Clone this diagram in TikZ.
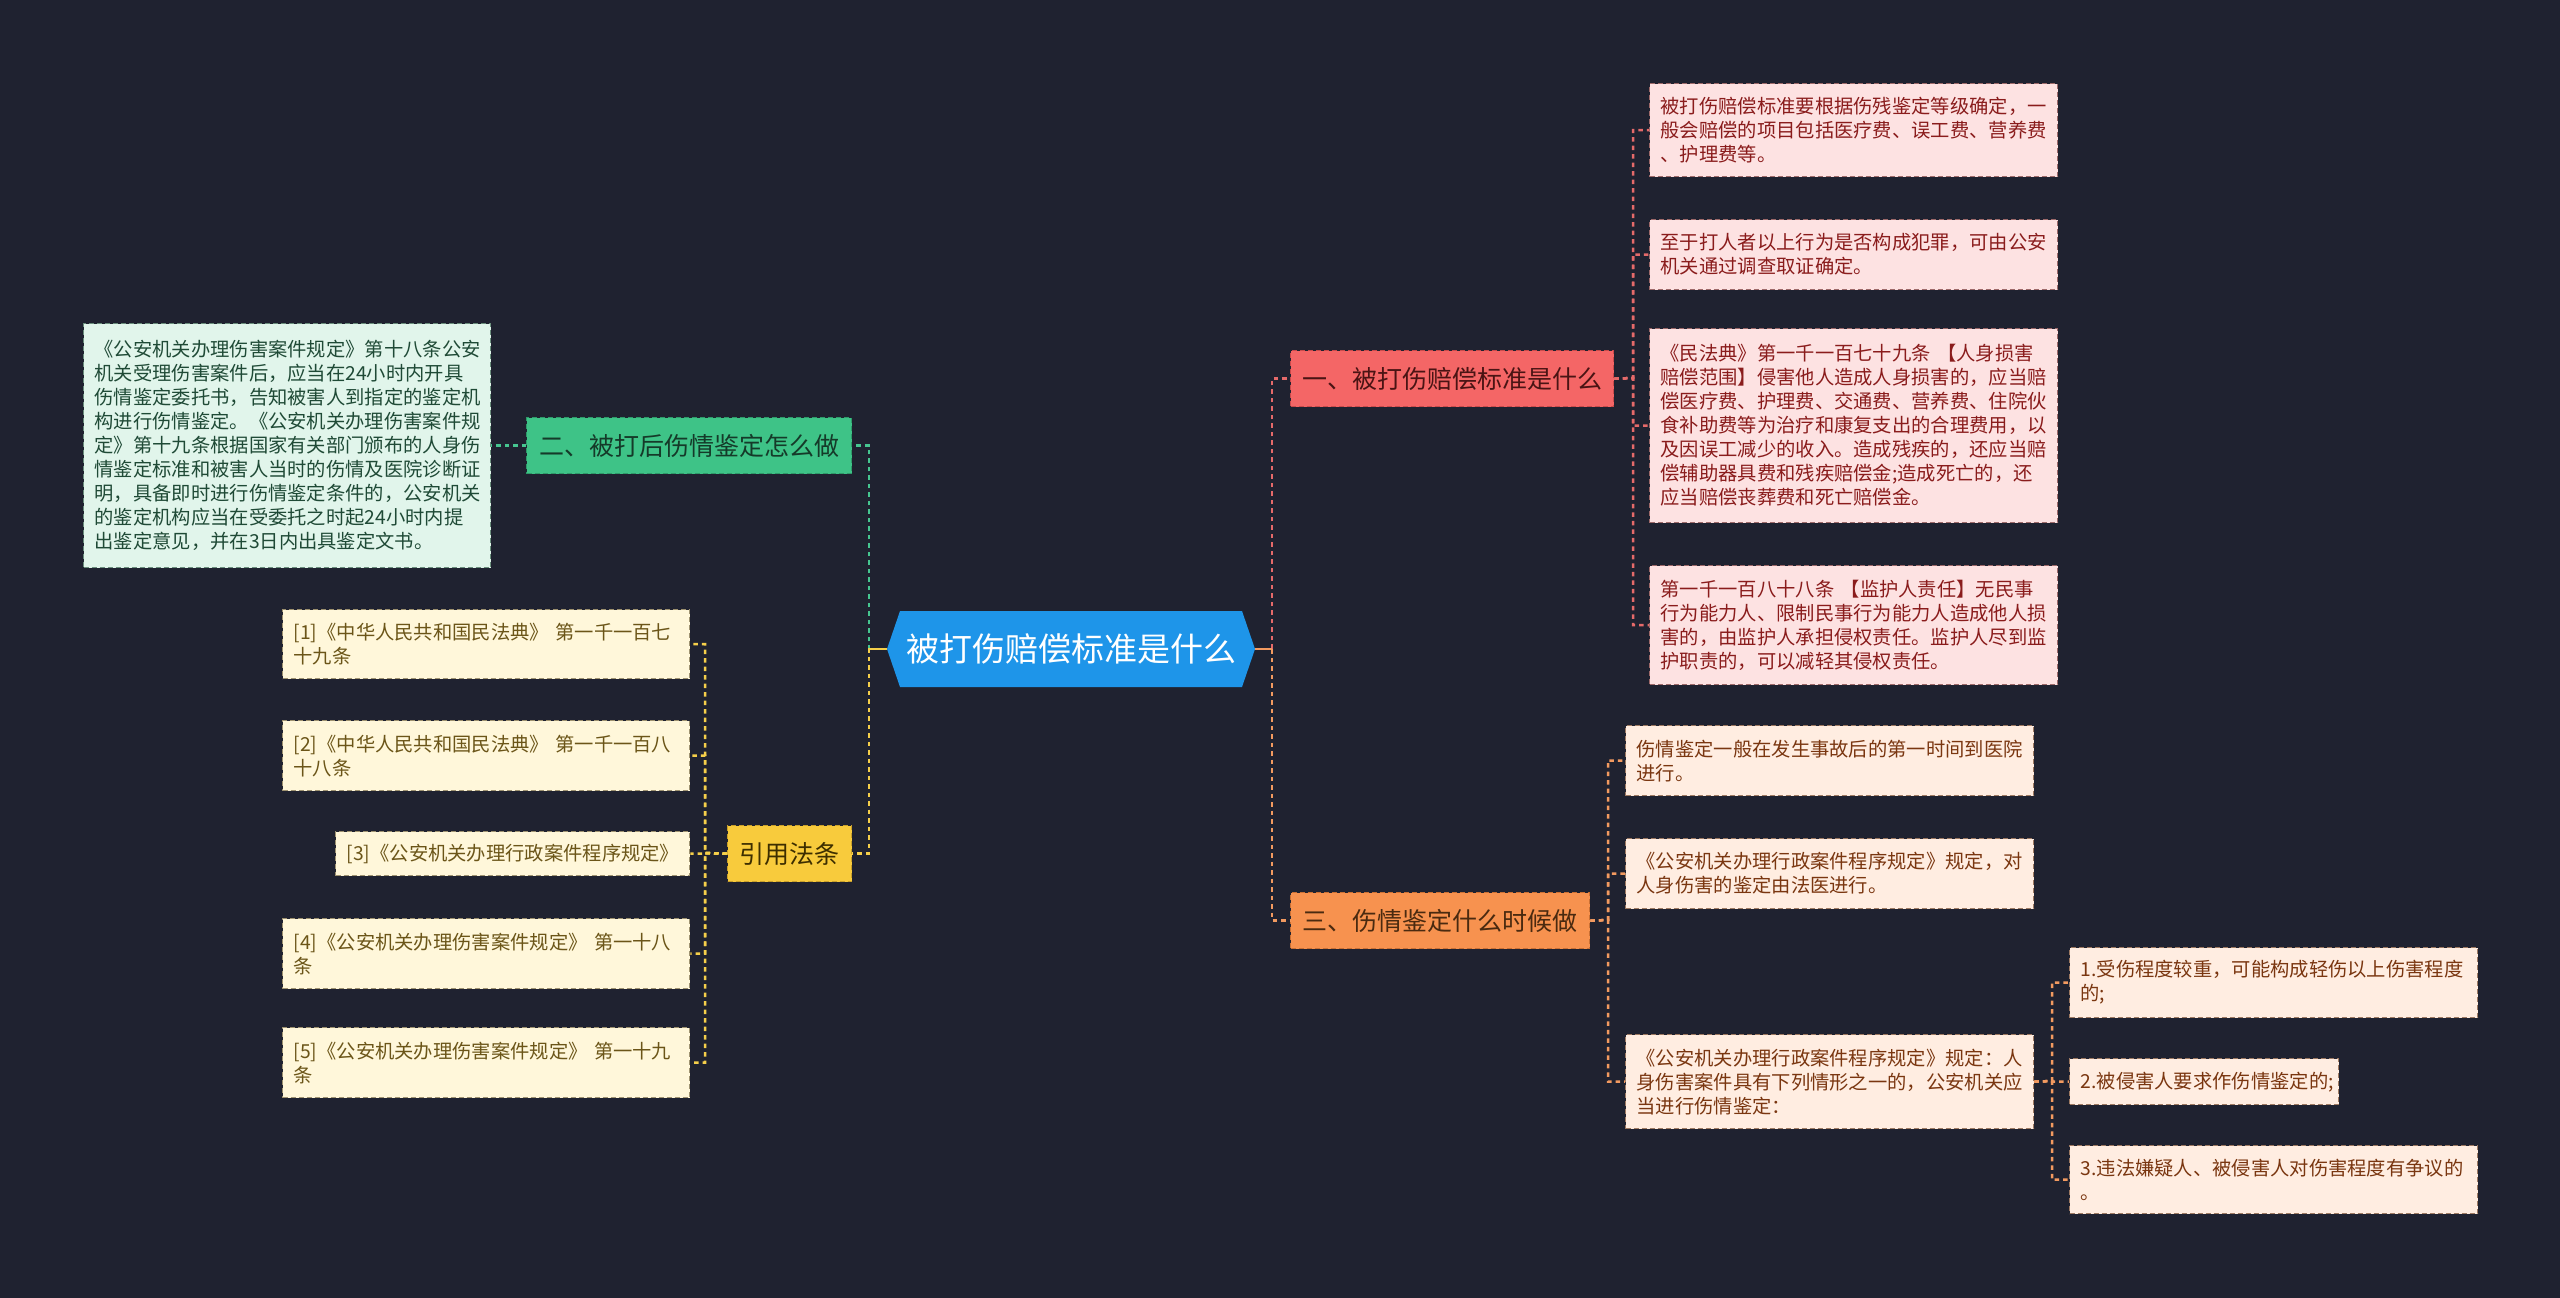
\documentclass[tikz,border=0pt]{standalone}
\usepackage{fontspec}
\setmainfont{Noto Sans CJK SC}
\usetikzlibrary{calc}
\definecolor{bg}{HTML}{1F2230}
\definecolor{cblue}{HTML}{1E95E9}
\definecolor{redF}{HTML}{F46666}
\definecolor{redD}{HTML}{C94A4A}
\definecolor{redT}{HTML}{4A1414}
\definecolor{oraF}{HTML}{F7924F}
\definecolor{oraD}{HTML}{C96F33}
\definecolor{oraT}{HTML}{4A2A10}
\definecolor{grnF}{HTML}{3EC387}
\definecolor{grnD}{HTML}{2E9A69}
\definecolor{grnT}{HTML}{153A29}
\definecolor{yelF}{HTML}{F8CB3C}
\definecolor{yelD}{HTML}{C9A02A}
\definecolor{yelT}{HTML}{3D2E00}
\definecolor{rLF}{HTML}{FDE2E2}
\definecolor{rLD}{HTML}{9E6A6A}
\definecolor{rLT}{HTML}{8A1C1C}
\definecolor{oLF}{HTML}{FFEDE1}
\definecolor{oLD}{HTML}{9E7A62}
\definecolor{oLT}{HTML}{7A3610}
\definecolor{gLF}{HTML}{E1F5EB}
\definecolor{gLD}{HTML}{6A8E7C}
\definecolor{gLT}{HTML}{1F4A36}
\definecolor{yLF}{HTML}{FFF7DA}
\definecolor{yLD}{HTML}{9E9270}
\definecolor{yLT}{HTML}{6B5518}
\definecolor{rC}{HTML}{E56A6A}
\definecolor{oC}{HTML}{F29A60}
\definecolor{gC}{HTML}{46C690}
\definecolor{yC}{HTML}{F5CF4A}
\tikzset{
  leaf/.style={anchor=north west, inner xsep=11pt, inner ysep=0pt, align=left,
    font=\fontsize{19.3}{24}\selectfont, line width=1.3pt, dash pattern=on 5pt off 3pt},
  rleaf/.style={leaf, fill=rLF, draw=rLD, text=rLT},
  oleaf/.style={leaf, fill=oLF, draw=oLD, text=oLT},
  gleaf/.style={leaf, fill=gLF, draw=gLD, text=gLT},
  yleaf/.style={leaf, fill=yLF, draw=yLD, text=yLT},
  branch/.style={anchor=north west, inner xsep=0pt, inner ysep=0pt, align=center,
    font=\fontsize{25}{30}\selectfont, line width=1.3pt, dash pattern=on 5pt off 3pt,
    minimum height=56pt},
  conn/.style={line width=2.5pt, dash pattern=on 4.5pt off 4pt},
  stub/.style={line width=2.5pt},
}
\begin{document}
\begin{tikzpicture}[x=1pt,y=-1pt]
\fill[bg] (0,0) rectangle (2560,1298);
\useasboundingbox (0,0) rectangle (2560,1298);

% center
\fill[cblue] (887,649) -- (900,611) -- (1242,611) -- (1255,649) -- (1242,687) -- (900,687) -- cycle;
\node[font=\fontsize{33}{40}\selectfont, text=white, minimum width=368pt, minimum height=76pt, inner sep=0pt] (c) at (1071,649) {被打伤赔偿标准是什么};

% branches
\node[branch, fill=redF, draw=redD, text=redT, minimum width=323pt] (red) at (1290,350) {一、被打伤赔偿标准是什么};
\node[branch, fill=oraF, draw=oraD, text=oraT, minimum width=299pt] (ora) at (1290,892) {三、伤情鉴定什么时候做};
\node[branch, fill=grnF, draw=grnD, text=grnT, minimum width=325pt] (grn) at (526,417) {二、被打后伤情鉴定怎么做};
\node[branch, fill=yelF, draw=yelD, text=yelT, minimum width=124pt] (yel) at (727,825) {引用法条};

% red leaves
\node[rleaf, text width=386pt, minimum height=93pt] (r1) at (1649,83) {被打伤赔偿标准要根据伤残鉴定等级确定，一\\般会赔偿的项目包括医疗费、误工费、营养费\\、护理费等。};
\node[rleaf, text width=386pt, minimum height=70pt] (r2) at (1649,219) {至于打人者以上行为是否构成犯罪，可由公安\\机关通过调查取证确定。};
\node[rleaf, text width=386pt, minimum height=194pt] (r3) at (1649,328) {《民法典》第一千一百七十九条~【人身损害\\赔偿范围】侵害他人造成人身损害的，应当赔\\偿医疗费、护理费、交通费、营养费、住院伙\\食补助费等为治疗和康复支出的合理费用，以\\及因误工减少的收入。造成残疾的，还应当赔\\偿辅助器具费和残疾赔偿金;造成死亡的，还\\应当赔偿丧葬费和死亡赔偿金。};
\node[rleaf, text width=386pt, minimum height=119pt] (r4) at (1649,565) {第一千一百八十八条~【监护人责任】无民事\\行为能力人、限制民事行为能力人造成他人损\\害的，由监护人承担侵权责任。监护人尽到监\\护职责的，可以减轻其侵权责任。};

% orange leaves
\node[oleaf, text width=386pt, minimum height=70pt] (o1) at (1625,725) {伤情鉴定一般在发生事故后的第一时间到医院\\进行。};
\node[oleaf, text width=386pt, minimum height=70pt] (o2) at (1625,838) {《公安机关办理行政案件程序规定》规定，对\\人身伤害的鉴定由法医进行。};
\node[oleaf, text width=386pt, minimum height=94pt] (o3) at (1625,1034) {《公安机关办理行政案件程序规定》规定：人\\身伤害案件具有下列情形之一的，公安机关应\\当进行伤情鉴定：};
\node[oleaf, text width=386pt, minimum height=70pt] (p1) at (2069,947) {1.受伤程度较重，可能构成轻伤以上伤害程度\\的;};
\node[oleaf, text width=247pt, minimum height=46pt] (p2) at (2069,1058) {2.被侵害人要求作伤情鉴定的;};
\node[oleaf, text width=386pt, minimum height=68pt] (p3) at (2069,1145) {3.违法嫌疑人、被侵害人对伤害程度有争议的\\。};

% green leaf
\node[gleaf, text width=385pt, minimum height=244pt] (g1) at (83,323) {《公安机关办理伤害案件规定》第十八条公安\\机关受理伤害案件后，应当在24小时内开具\\伤情鉴定委托书，告知被害人到指定的鉴定机\\构进行伤情鉴定。《公安机关办理伤害案件规\\定》第十九条根据国家有关部门颁布的人身伤\\情鉴定标准和被害人当时的伤情及医院诊断证\\明，具备即时进行伤情鉴定条件的，公安机关\\的鉴定机构应当在受委托之时起24小时内提\\出鉴定意见，并在3日内出具鉴定文书。};

% yellow leaves
\node[yleaf, text width=385pt, minimum height=69pt] (y1) at (282,609) {[1]《中华人民共和国民法典》~第一千一百七\\十九条};
\node[yleaf, text width=385pt, minimum height=70pt] (y2) at (282,720) {[2]《中华人民共和国民法典》~第一千一百八\\十八条};
\node[yleaf, text width=332pt, minimum height=44pt] (y3) at (335,831) {[3]《公安机关办理行政案件程序规定》};
\node[yleaf, text width=385pt, minimum height=70pt] (y4) at (282,918) {[4]《公安机关办理伤害案件规定》~第一十八\\条};
\node[yleaf, text width=385pt, minimum height=70pt] (y5) at (282,1027) {[5]《公安机关办理伤害案件规定》~第一十九\\条};

% bus coordinates
\coordinate (busR) at (1272,649);
\coordinate (busL) at (869,649);
\coordinate (busRed) at (1633,378);
\coordinate (busO) at (1608,920);
\coordinate (busP) at (2052,1081);
\coordinate (busY) at (705,853);

% connectors from center
\draw[conn, rC] (c.east) -- (busR) |- (red.west);
\draw[conn, oC] (c.east) -- (busR) |- (ora.west);
\draw[conn, gC] (c.west) -- (busL) |- (grn.east);
\draw[conn, yC] (c.west) -- (busL) |- (yel.east);
\draw[stub, oC] (c.east) -- (busR);
\draw[stub, yC] (c.west) -- (busL);

% red group
\foreach \n in {r1,r2,r3,r4} \draw[conn, rC] (red.east) -- (busRed) |- (\n.west);
% orange group
\foreach \n in {o1,o2,o3} \draw[conn, oC] (ora.east) -- (busO) |- (\n.west);
\foreach \n in {p1,p2,p3} \draw[conn, oC] (o3.east) -- (busP) |- (\n.west);
% green
\draw[conn, gC] (grn.west) -- (g1.east);
% yellow
\foreach \n in {y1,y2,y3,y4,y5} \draw[conn, yC] (yel.west) -- (busY) |- (\n.east);
\end{tikzpicture}
\end{document}
